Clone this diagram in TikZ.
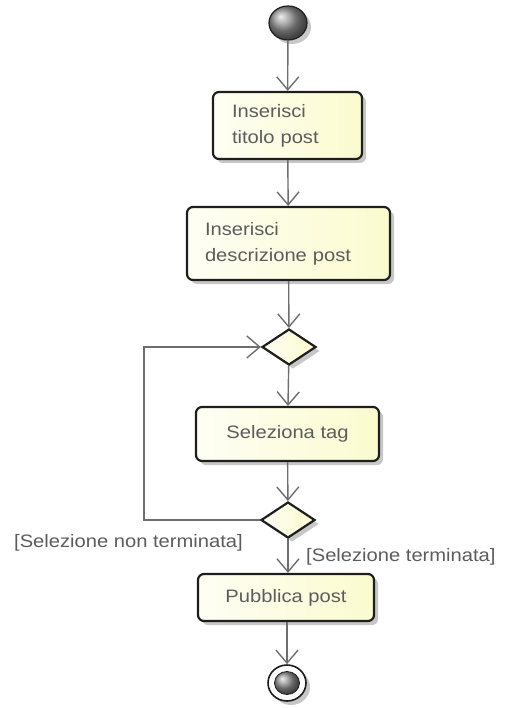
\documentclass[tikz,border=0pt]{standalone}
\usepackage{fontspec}
\setmainfont[FakeStretch=1.12]{Liberation Sans}
\usetikzlibrary{arrows.meta,shapes.geometric,shadows,calc}
\definecolor{linegray}{HTML}{6E6E6E}
\definecolor{boxblack}{HTML}{1E1E1E}
\definecolor{txtgray}{HTML}{5C5C5C}
\definecolor{fillL}{HTML}{FEFEF4}
\definecolor{fillR}{HTML}{FBFBCF}
\begin{document}
\begin{tikzpicture}[x=1pt,y=-1pt,
  conn/.style={draw=linegray, line width=1.4pt,
    -{Straight Barb[length=13pt,width=22pt,line width=1.4pt]}},
  shad/.style={drop shadow={shadow xshift=4pt, shadow yshift=-4pt, opacity=0.22, fill=black}},
  act/.style={rectangle, rounded corners=6pt, draw=boxblack, line width=2.2pt,
    left color=fillL, right color=fillR, shad, text=txtgray,
    font=\fontsize{18}{26}\selectfont},
  dec/.style={diamond, draw=boxblack, line width=2.2pt, inner sep=0pt,
    minimum width=54pt, minimum height=36pt, left color=fillL, right color=fillR, shad},
  lbl/.style={text=txtgray, font=\fontsize{18}{22}\selectfont, inner sep=0pt}
]
\useasboundingbox (0,0) rectangle (518,708);
\node[ellipse, draw=boxblack, line width=1.2pt, minimum width=38pt, minimum height=34pt,
  inner sep=0pt, shading=ball, ball color=gray!85, shad] (start) at (288,23) {};
\node[act, align=left, text width=111pt, inner xsep=19pt, minimum height=67pt] (a1) at (287.5,125.5) {Inserisci\\titolo post};
\node[act, align=left, text width=167pt, inner xsep=18pt, minimum height=73pt] (a2) at (288.5,243.5) {Inserisci\\descrizione post};
\node[dec] (d1) at (289,347) {};
\node[act, minimum width=183pt, minimum height=54pt] (a3) at (287.5,434) {Seleziona tag};
\node[dec] (d2) at (288,520) {};
\node[act, minimum width=176pt, minimum height=47pt] (a4) at (286,597.5) {Pubblica post};
\node[ellipse, draw=boxblack, line width=1.6pt, fill=white, minimum width=38pt, minimum height=36pt,
  inner sep=0pt, shad] (end) at (287,683) {};
\node[ellipse, draw=boxblack, line width=0.8pt, minimum width=25pt, minimum height=23pt,
  inner sep=0pt, shading=ball, ball color=gray!85] (endin) at (end.center) {};

\draw[conn] (start) -- (a1);
\draw[conn] (a1) -- (a2);
\draw[conn] (a2) -- (d1);
\draw[conn] (d1) -- (a3);
\draw[conn] (a3) -- (d2);
\draw[conn] (d2.south) -- (d2.south |- a4.north);
\draw[conn] (a4.south -| end.north) -- (end);
\draw[conn] (d2.west) -- ++(-116,0) |- (d1.west);

\node[lbl, anchor=east] (l1) at (243,543) {[Selezione non terminata]};
\node[lbl, anchor=west] (l2) at (306,557) {[Selezione terminata]};
\end{tikzpicture}
\end{document}
